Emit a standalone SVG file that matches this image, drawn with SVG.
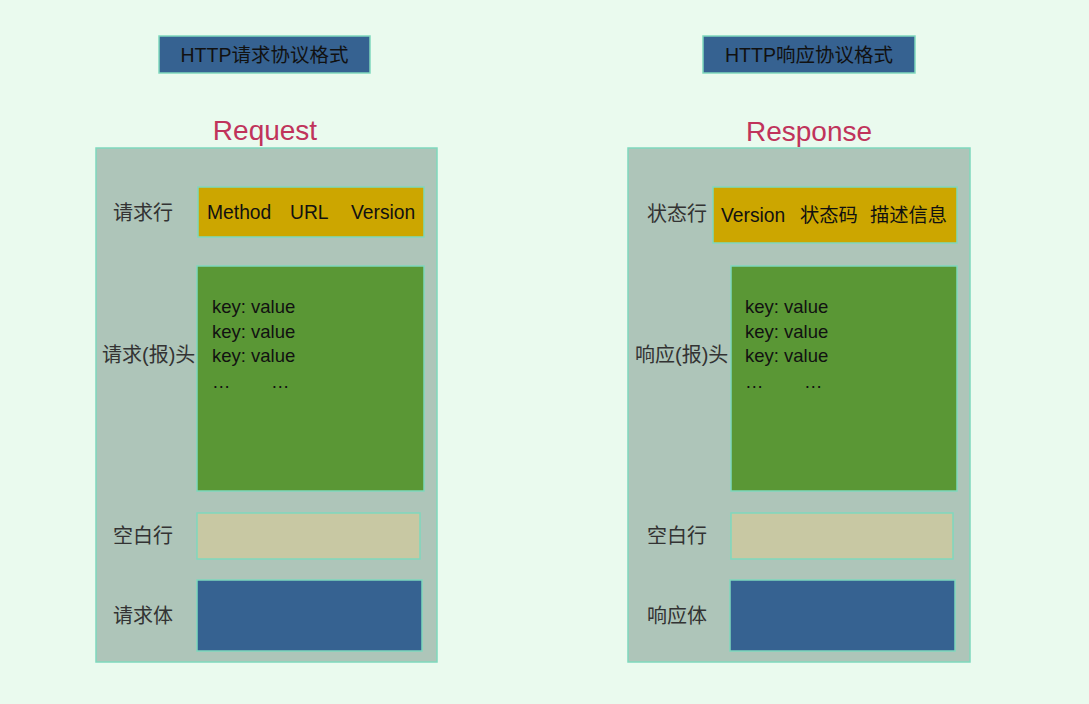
<svg xmlns="http://www.w3.org/2000/svg" width="1089" height="704" viewBox="0 0 1089 704">
<style>
.bx{stroke:#7fd8bd;stroke-width:1.5}
.title{fill:#366291}
.cont{fill:#aec5b9}
.gold{fill:#cca600}
.green{fill:#5a9735}
.beige{fill:#c8c8a3}
.blue{fill:#366291}
text{font-family:"Liberation Sans","Noto Sans CJK SC",sans-serif;fill:#111}
.t{font-size:19.5px}
.h{font-size:28px;fill:#c0335b}
.l{font-size:20px;fill:#333}
.c{font-size:18.5px}
.g{font-size:19.3px}
</style>
<rect width="1089" height="704" fill="#eafaee"/>
<g id="req-title"><rect class="bx title" x="159" y="36" width="211" height="37"/><text class="t" x="264.5" y="62" text-anchor="middle">HTTP请求协议格式</text></g>
<g id="resp-title"><rect class="bx title" x="703" y="36" width="212" height="37"/><text class="t" x="809" y="62" text-anchor="middle">HTTP响应协议格式</text></g>
<g id="request">
<text class="h" x="265" y="140" text-anchor="middle">Request</text>
<rect class="bx cont" x="96" y="148" width="341" height="514"/>
</g>
<g id="req-line"><text class="l" x="113" y="220">请求行</text><rect class="bx gold" x="198" y="187" width="226" height="50"/><text class="g" x="207" y="219">Method</text><text class="g" x="290" y="219">URL</text><text class="g" x="351" y="219">Version</text></g>
<g id="req-header"><text class="l" x="102" y="362">请求(报)头</text><rect class="bx green" x="197" y="266" width="227" height="225"/>
<text class="c" x="212" y="313">key: value</text><text class="c" x="212" y="338">key: value</text><text class="c" x="212" y="362">key: value</text><text class="c" x="212" y="388">…</text><text class="c" x="271" y="388">…</text></g>
<g id="req-blank"><text class="l" x="113" y="543">空白行</text><rect class="bx beige" x="197" y="513" width="223" height="46"/></g>
<g id="req-body"><text class="l" x="113" y="623">请求体</text><rect class="bx blue" x="197" y="580" width="225" height="71"/></g>
<g id="response">
<text class="h" x="809" y="141" text-anchor="middle">Response</text>
<rect class="bx cont" x="628" y="148" width="342" height="514"/>
</g>
<g id="resp-line"><text class="l" x="647" y="221">状态行</text><rect class="bx gold" x="713" y="187" width="244" height="56"/><text class="g" x="721" y="222">Version</text><text class="g" x="800" y="222">状态码</text><text class="g" x="870" y="222">描述信息</text></g>
<g id="resp-header"><text class="l" x="635" y="362">响应(报)头</text><rect class="bx green" x="731" y="266" width="226" height="225"/>
<text class="c" x="745" y="313">key: value</text><text class="c" x="745" y="338">key: value</text><text class="c" x="745" y="362">key: value</text><text class="c" x="745" y="388">…</text><text class="c" x="804" y="388">…</text></g>
<g id="resp-blank"><text class="l" x="647" y="543">空白行</text><rect class="bx beige" x="731" y="513" width="222" height="46"/></g>
<g id="resp-body"><text class="l" x="647" y="623">响应体</text><rect class="bx blue" x="730" y="580" width="225" height="71"/></g>
<g id="connectors"/>
</svg>
